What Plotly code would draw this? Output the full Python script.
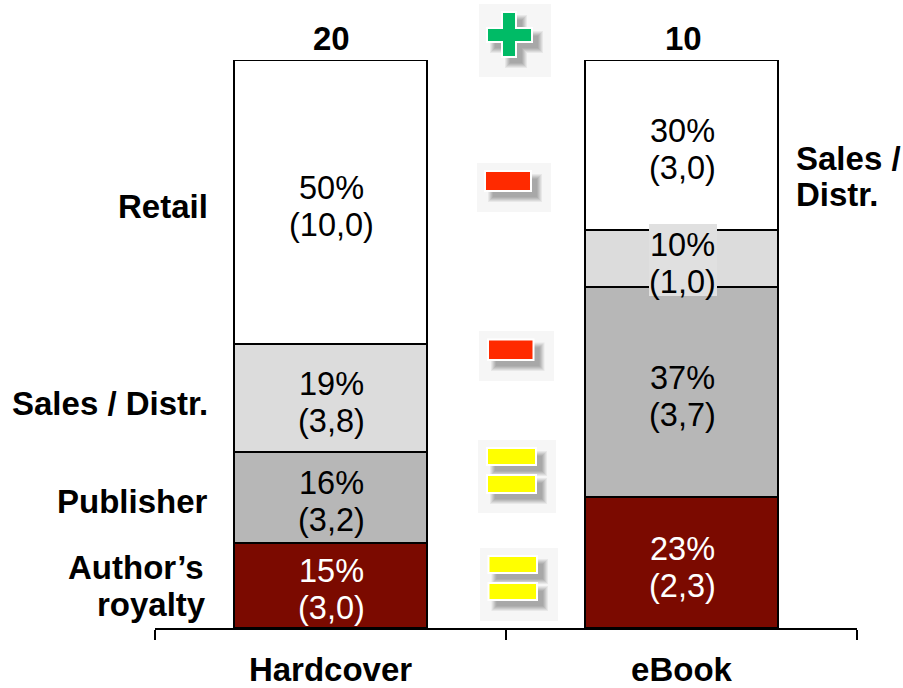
import plotly.graph_objects as go

formats = ["Hardcover", "eBook"]
totals = [20, 10]
segments = ["Author's royalty", "Publisher", "Sales / Distr.", "Retail"]
shares_hardcover = [15, 16, 19, 50]
shares_ebook = [23, 37, 10, 30]
amounts_hardcover = [3.0, 3.2, 3.8, 10.0]
amounts_ebook = [2.3, 3.7, 1.0, 3.0]
colors = ["#7b0a00", "#b7b7b7", "#dcdcdc", "#ffffff"]
text_colors = ["#ffffff", "#000000", "#000000", "#000000"]

W, H = 903, 688
L, R, T, B = 155, 857, 60, 628
FONT = "Liberation Sans, Arial, sans-serif"
SIZE = 32.5
BOLD = 33


def px(x):
    return (x - L) / (R - L)


def py(y):
    return (B - y) / (B - T)


def rect(x0, y0, x1, y1, color):
    return dict(type="rect", xref="paper", yref="paper", x0=px(x0), x1=px(x1),
                y0=py(y1), y1=py(y0), fillcolor=color, line=dict(width=0), layer="above")


fig = go.Figure()
for i, seg in enumerate(segments):
    fig.add_bar(x=formats, y=[shares_hardcover[i], shares_ebook[i]], name=seg, width=0.55,
                marker=dict(color=colors[i], line=dict(color="#000000", width=2)))

annotations = []
for col, (shares, amounts) in enumerate([(shares_hardcover, amounts_hardcover),
                                         (shares_ebook, amounts_ebook)]):
    base = 0
    for i, (s, a) in enumerate(zip(shares, amounts)):
        mid = base + s / 2
        base += s
        for txt, shift in [(f"{s}%", 14), (f"({a:.1f})".replace(".", ","), -23)]:
            annotations.append(dict(x=formats[col], y=mid, xref="x", yref="y", text=txt, showarrow=False,
                                    yshift=shift, xshift=1,
                                    font=dict(family=FONT, size=SIZE, color=text_colors[i])))
    annotations.append(dict(x=formats[col], y=100, xref="x", yref="y", text=f"<b>{totals[col]}</b>",
                            showarrow=False, yshift=22, xshift=1 + col,
                            font=dict(family=FONT, size=BOLD, color="#000000")))

side_labels = [("Retail", 210, 206, "right"), ("Sales / Distr.", 210, 403, "right"),
               ("Publisher", 210, 501, "right"), ("Author’s", 206, 567, "right"),
               ("royalty", 208, 604, "right"), ("Sales /", 794, 158, "left"), ("Distr.", 794, 195, "left")]
for txt, x, y, anchor in side_labels:
    annotations.append(dict(x=px(x), y=py(y), xref="paper", yref="paper", text=f"<b>{txt}</b>", showarrow=False,
                            xanchor=anchor, yanchor="middle", xshift=0,
                            font=dict(family=FONT, size=BOLD, color="#000000")))

shapes = [rect(649, 224, 717, 296, "#e0e0e0")]

PANEL = "#f6f6f6"
GREEN, RED, YELLOW = "#00bb66", "#ff2a00", "#ffff00"
icons = [
    ((479, 4, 551, 77), GREEN, [(503, 13, 515, 56), (488, 29, 531, 41)]),
    ((477, 163, 551, 212), RED, [(486, 172, 530, 190)]),
    ((479, 331, 554, 381), RED, [(489, 340.5, 532.5, 359)]),
    ((478, 440, 556, 513), YELLOW, [(488, 449, 535, 464), (488, 476, 535, 492)]),
    ((480, 548, 558, 621), YELLOW, [(489.5, 557, 536, 572), (489.5, 584, 536, 599)]),
]
for panel, color, cores in icons:
    shapes.append(rect(*panel, PANEL))
    for grow, shade in [(5, "#e8e8e8"), (4, "#dadada"), (3, "#cbcbcb"), (2, "#bdbdbd"), (1, "#b0b0b0"), (0, "#a8a8a8")]:
        for x0, y0, x1, y1 in cores:
            shapes.append(rect(x0 + 7 - grow, y0 + 7 - grow, x1 + 7 + grow, y1 + 7 + grow, shade))
    for x0, y0, x1, y1 in cores:
        shapes.append(rect(x0 - 2, y0 - 2, x1 + 2, y1 + 2, "#ffffff"))
    for core in cores:
        shapes.append(rect(*core, color))

fig.update_layout(
    width=W, height=H, barmode="stack", showlegend=False, autosize=False,
    margin=dict(l=L, r=W - R, t=T, b=H - B, pad=0),
    paper_bgcolor="#ffffff", plot_bgcolor="#ffffff",
    annotations=annotations, shapes=shapes,
    xaxis=dict(type="category", categoryorder="array", categoryarray=formats, range=[-0.5, 1.5],
               automargin=False,
               showline=True, linecolor="#000000", linewidth=2, showgrid=False, zeroline=False,
               ticks="outside", tickson="boundaries", ticklen=10, tickwidth=2, tickcolor="#000000",
               ticklabelstandoff=11, tickvals=formats, ticktext=[f"<b>{f}</b>" for f in formats],
               tickfont=dict(family=FONT, size=BOLD, color="#000000")),
    yaxis=dict(range=[0, 100], visible=False, automargin=False),
)
fig.write_html("out.html", config=dict(displayModeBar=False),
               post_script="document.body.style.margin='0';document.documentElement.style.overflow='hidden';")
